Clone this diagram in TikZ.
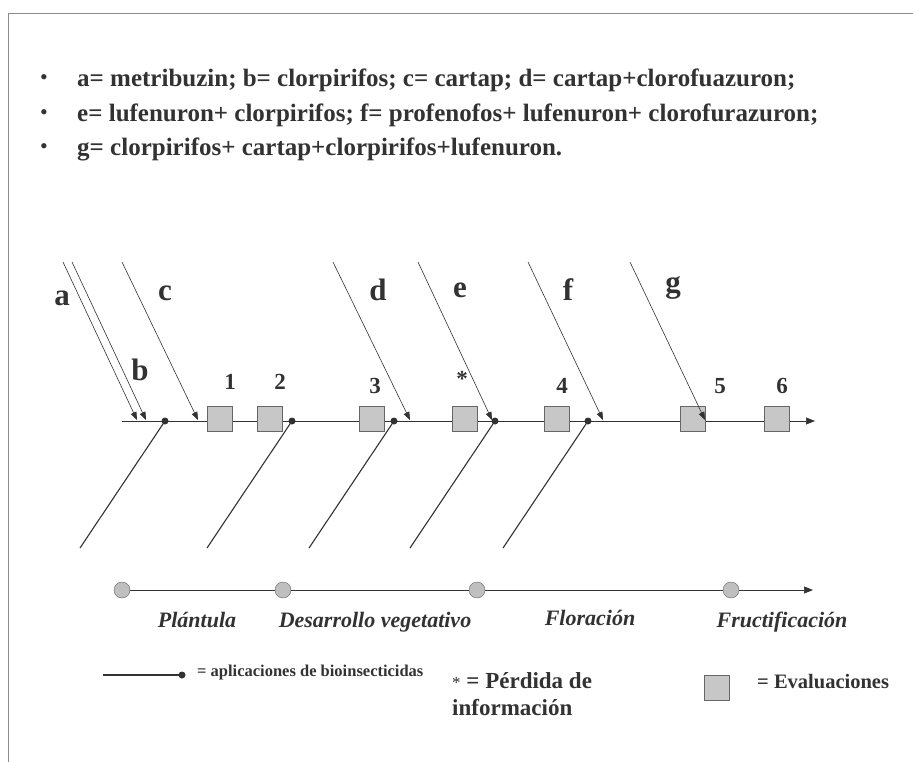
\documentclass[tikz,border=0pt]{standalone}
\usepackage{fontspec}
\setmainfont{Liberation Serif}
\usetikzlibrary{arrows.meta, positioning}
\definecolor{ink}{RGB}{50,50,50}
\tikzset{
  evalbox/.style={rectangle, draw=black!60, fill=black!22, minimum size=25pt, inner sep=0pt},
  phasedot/.style={circle, draw=black!60, fill=black!25, minimum size=16pt, inner sep=0pt},
  appdot/.style={circle, fill=ink, minimum size=7pt, inner sep=0pt},
  inarrow/.style={-{Triangle[length=8pt,width=6pt]}, ink, line width=0.6pt},
  appline/.style={ink, line width=1.1pt},
  axisline/.style={-{Triangle[length=9pt,width=7pt]}, ink, line width=0.7pt},
  letter/.style={anchor=base, font=\fontsize{31}{33}\selectfont\bfseries, text=ink},
  evalnum/.style={anchor=base, font=\fontsize{23}{25}\selectfont\bfseries, text=ink},
  stage/.style={anchor=base, font=\fontsize{22}{24}\selectfont\bfseries\itshape, text=ink},
  listitem/.style={anchor=west, font=\fontsize{25}{27}\selectfont\bfseries, text=ink, inner sep=0pt},
  legtext/.style={anchor=west, text=ink, inner sep=0pt},
}

\begin{document}
\begin{tikzpicture}[x=1pt, y=-1pt]
\useasboundingbox (0,0) rectangle (913,762);

% ── marco ─────────────────────────────────────────────────────────────────────
\draw[black!45, line width=0.8pt] (913,13) -- (8,13) -- (8,762);

% ── lista de productos ────────────────────────────────────────────────────────
\foreach \y in {80,115,149}
  \node[text=ink, font=\fontsize{22}{24}\selectfont] at (44,\y) {•};
\node[listitem] (item1) at (77,80)
  {a= metribuzin; b= clorpirifos; c= cartap; d= cartap+clorofuazuron;};
\node[listitem] (item2) at (77,115)
  {e= lufenuron+ clorpirifos; f= profenofos+ lufenuron+ clorofurazuron;};
\node[listitem] (item3) at (77,149)
  {g= clorpirifos+ cartap+clorpirifos+lufenuron.};

% ── eje de evaluaciones ───────────────────────────────────────────────────────
\coordinate (t0) at (122,421);
\coordinate (t1) at (815,421);
\draw[axisline] (t0) -- (t1);

% aplicaciones (línea gruesa + punto)
\foreach \x [count=\i] in {165,292,394,495,588}{
  \coordinate (lo\i) at (\x-85,548);
  \node[appdot] (app\i) at (\x,421) {};
  \draw[appline] (lo\i) -- (app\i.center);
}

% evaluaciones (cuadros)
\foreach \x [count=\i] in {220,270,372,465,557,693,777}
  \node[evalbox] (ev\i) at (\x,419) {};

\node[evalnum] (n1) at (230,389) {1};
\node[evalnum] (n2) at (280,389) {2};
\node[evalnum] (n3) at (375,393) {3};
\node[evalnum] (nx) at (462,386) {*};
\node[evalnum] (n4) at (562,393) {4};
\node[evalnum] (n5) at (720,393) {5};
\node[evalnum] (n6) at (782,393) {6};

% productos que entran al eje
\foreach \sx/\ex/\n in {63/137/a, 72/146/b, 122/198/c, 333/410/d,
                        418/492/e, 528/603/f, 630/705/g}{
  \coordinate (s\n) at (\sx,262);
  \coordinate (h\n) at (\ex,420);
  \draw[inarrow] (s\n) -- (h\n);
}

\node[letter] (la) at (62,305) {a};
\node[letter] (lb) at (140,380) {b};
\node[letter] (lc) at (165,300) {c};
\node[letter] (ld) at (378,300) {d};
\node[letter] (le) at (460,297) {e};
\node[letter] (lf) at (568,300) {f};
\node[letter] (lg) at (673,292) {g};

% ── etapas del cultivo ────────────────────────────────────────────────────────
\node[phasedot] (p1) at (122,590) {};
\node[phasedot] (p2) at (283,590) {};
\node[phasedot] (p3) at (477,590) {};
\node[phasedot] (p4) at (731,590) {};
\coordinate (pend) at (813,590);
\draw[ink, line width=0.7pt] (p1) -- (p2) (p2) -- (p3) (p3) -- (p4);
\draw[axisline] (p4) -- (pend);

\node[stage] (st1) at (197,627) {Plántula};
\node[stage] (st2) at (375,627) {Desarrollo vegetativo};
\node[stage] (st3) at (590,625) {Floración};
\node[stage] (st4) at (782,627) {Fructificación};

% ── leyenda ──────────────────────────────────────────────────────────────────
\coordinate (leg0) at (103,675);
\node[appdot] (legdot) at (182,675) {};
\draw[appline] (leg0) -- (legdot.center);
\node[legtext, font=\fontsize{16.5}{18}\selectfont\bfseries] (legapp) at (197,673)
  {= aplicaciones de bioinsecticidas};

\node[legtext, anchor=north west, align=left,
      font=\fontsize{23}{27}\selectfont\bfseries] (legloss) at (452,672)
  {{\mdseries\fontsize{17}{18}\selectfont *} = Pérdida de\\información};

\node[evalbox] (legbox) at (717,688) {};
\node[legtext, font=\fontsize{20.5}{22}\selectfont\bfseries] (legeval) at (757,682)
  {= Evaluaciones};

\end{tikzpicture}
\end{document}
